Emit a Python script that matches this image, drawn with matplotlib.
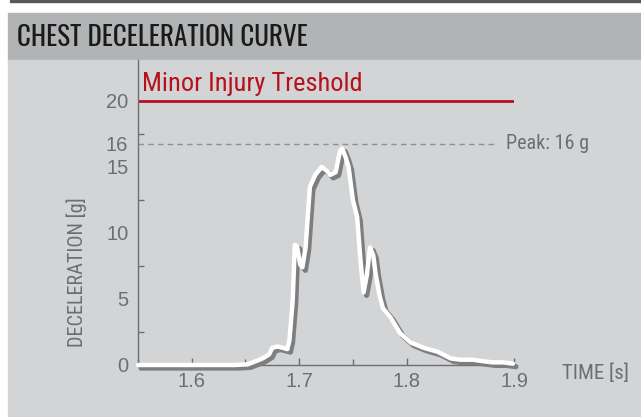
import matplotlib
matplotlib.use("Agg")
import matplotlib.pyplot as plt
from matplotlib import transforms
from matplotlib.patches import Rectangle
from matplotlib.ticker import MultipleLocator, FixedLocator

# data
time_s = [1.550, 1.600, 1.640, 1.652, 1.660, 1.666, 1.672, 1.675, 1.680, 1.685,
          1.689, 1.691, 1.694, 1.696, 1.698, 1.701, 1.703, 1.706, 1.710, 1.715,
          1.721, 1.726, 1.729, 1.734, 1.738, 1.740, 1.743, 1.746, 1.750, 1.754,
          1.757, 1.760, 1.763, 1.766, 1.769, 1.771, 1.775, 1.778, 1.785, 1.794,
          1.804, 1.816, 1.829, 1.841, 1.850, 1.862, 1.870, 1.880, 1.890, 1.899]
decel_g = [0.0, 0.0, 0.0, 0.05, 0.3, 0.5, 0.8, 1.3, 1.4, 1.3,
           1.2, 1.9, 4.9, 9.1, 9.0, 7.6, 7.4, 8.9, 13.5, 14.4,
           15.0, 14.7, 14.4, 14.6, 16.2, 16.4, 15.8, 15.0, 12.5, 11.2,
           8.0, 5.5, 6.8, 8.9, 8.3, 7.0, 5.2, 4.3, 3.6, 2.4,
           1.7, 1.3, 1.0, 0.5, 0.4, 0.4, 0.3, 0.2, 0.2, 0.1]
threshold = 20
peak_label = "16"
peak_level = 16.75   # where the dashed peak line sits on the drawn scale

title_font = ["Oswald", "DejaVu Sans"]
cond = ["Roboto Condensed", "DejaVu Sans"]
plain = ["Liberation Sans", "DejaVu Sans"]

tick_col = "#6d6e71"
red = "#b5121b"

fig = plt.figure(figsize=(6.41, 4.17), dpi=100)
W, H = 641, 417
# background bands (pixel coords from top)
fig.patches.append(Rectangle((10 / W, 1 - 2 / H), 1, 2 / H, transform=fig.transFigure,
                             color="#58595b", zorder=-5))
fig.patches.append(Rectangle((8 / W, 1 - 60 / H), 1, 47 / H, transform=fig.transFigure,
                             color="#b1b3b5", zorder=-5))
fig.patches.append(Rectangle((8 / W, 0), 1, 1 - 60 / H, transform=fig.transFigure,
                             color="#d3d4d6", zorder=-5))
fig.text(17 / W, 1 - 37 / H, "CHEST DECELERATION CURVE", family=title_font,
         weight="light", fontsize=19.5, color="#1a1a1a", va="center", ha="left")

ax = fig.add_axes([138 / W, 52 / H, 376 / W, 305 / H])
ax.set_facecolor("none")
ax.set_xlim(1.55, 1.9)
ax.set_ylim(0, 23.1)
for s in ["top", "right"]:
    ax.spines[s].set_visible(False)
for s in ["left", "bottom"]:
    ax.spines[s].set_color(tick_col)
    ax.spines[s].set_linewidth(1)

ax.xaxis.set_major_locator(FixedLocator([1.6, 1.7, 1.8, 1.9]))
ax.xaxis.set_minor_locator(MultipleLocator(0.05))
ax.yaxis.set_major_locator(FixedLocator([0, 5, 10, 15, peak_level, 20]))
ax.set_yticklabels(["0", "5", "10", "15", peak_label, "20"])
# small inward marks on the y axis, none at the peak and threshold
ax.yaxis.set_minor_locator(FixedLocator([2.5, 5, 7.5, 10, 12.5, 15, 17.5]))
ax.tick_params(which="both", direction="in", colors=tick_col, labelcolor=tick_col,
               labelsize=14.5)
ax.tick_params(which="major", length=5, width=1)
ax.tick_params(which="minor", length=4, width=1)
ax.tick_params(axis="y", which="major", length=0, pad=7)
ax.tick_params(axis="x", which="major", pad=5)
for lab in ax.get_xticklabels() + ax.get_yticklabels():
    lab.set_family(plain)

ax.axhline(threshold, color=red, lw=2, zorder=2)
ax.text(1.5535, threshold + 0.4, "Minor Injury Treshold", color=red, family=cond,
        fontsize=19, va="bottom", ha="left")
ax.plot([1.55, 1.885], [peak_level, peak_level], color="#8f9093", lw=1,
        ls=(0, (4, 3)), zorder=2)
ax.text(1.8925, peak_level, "Peak: " + peak_label + " g", color=tick_col, family=cond,
        fontsize=14.5, va="center", ha="left", clip_on=False)

shadow = transforms.offset_copy(ax.transData, fig=fig, x=3, y=-3, units="dots")
ax.plot(time_s, decel_g, color="#7d7e80", lw=3.8, transform=shadow, zorder=3,
        solid_joinstyle="round", solid_capstyle="round", clip_on=False)
ax.plot(time_s, decel_g, color="white", lw=3.2, zorder=4, solid_joinstyle="round",
        solid_capstyle="round", clip_on=False)

fig.text(77 / W, 1 - 272 / H, "DECELERATION [g]", family=cond, fontsize=14.6,
         color=tick_col, rotation=90, ha="center", va="center")
fig.text(562 / W, 1 - 373 / H, "TIME [s]", family=cond, fontsize=15, color=tick_col,
         va="center", ha="left")

fig.savefig("out.png", dpi=100)
